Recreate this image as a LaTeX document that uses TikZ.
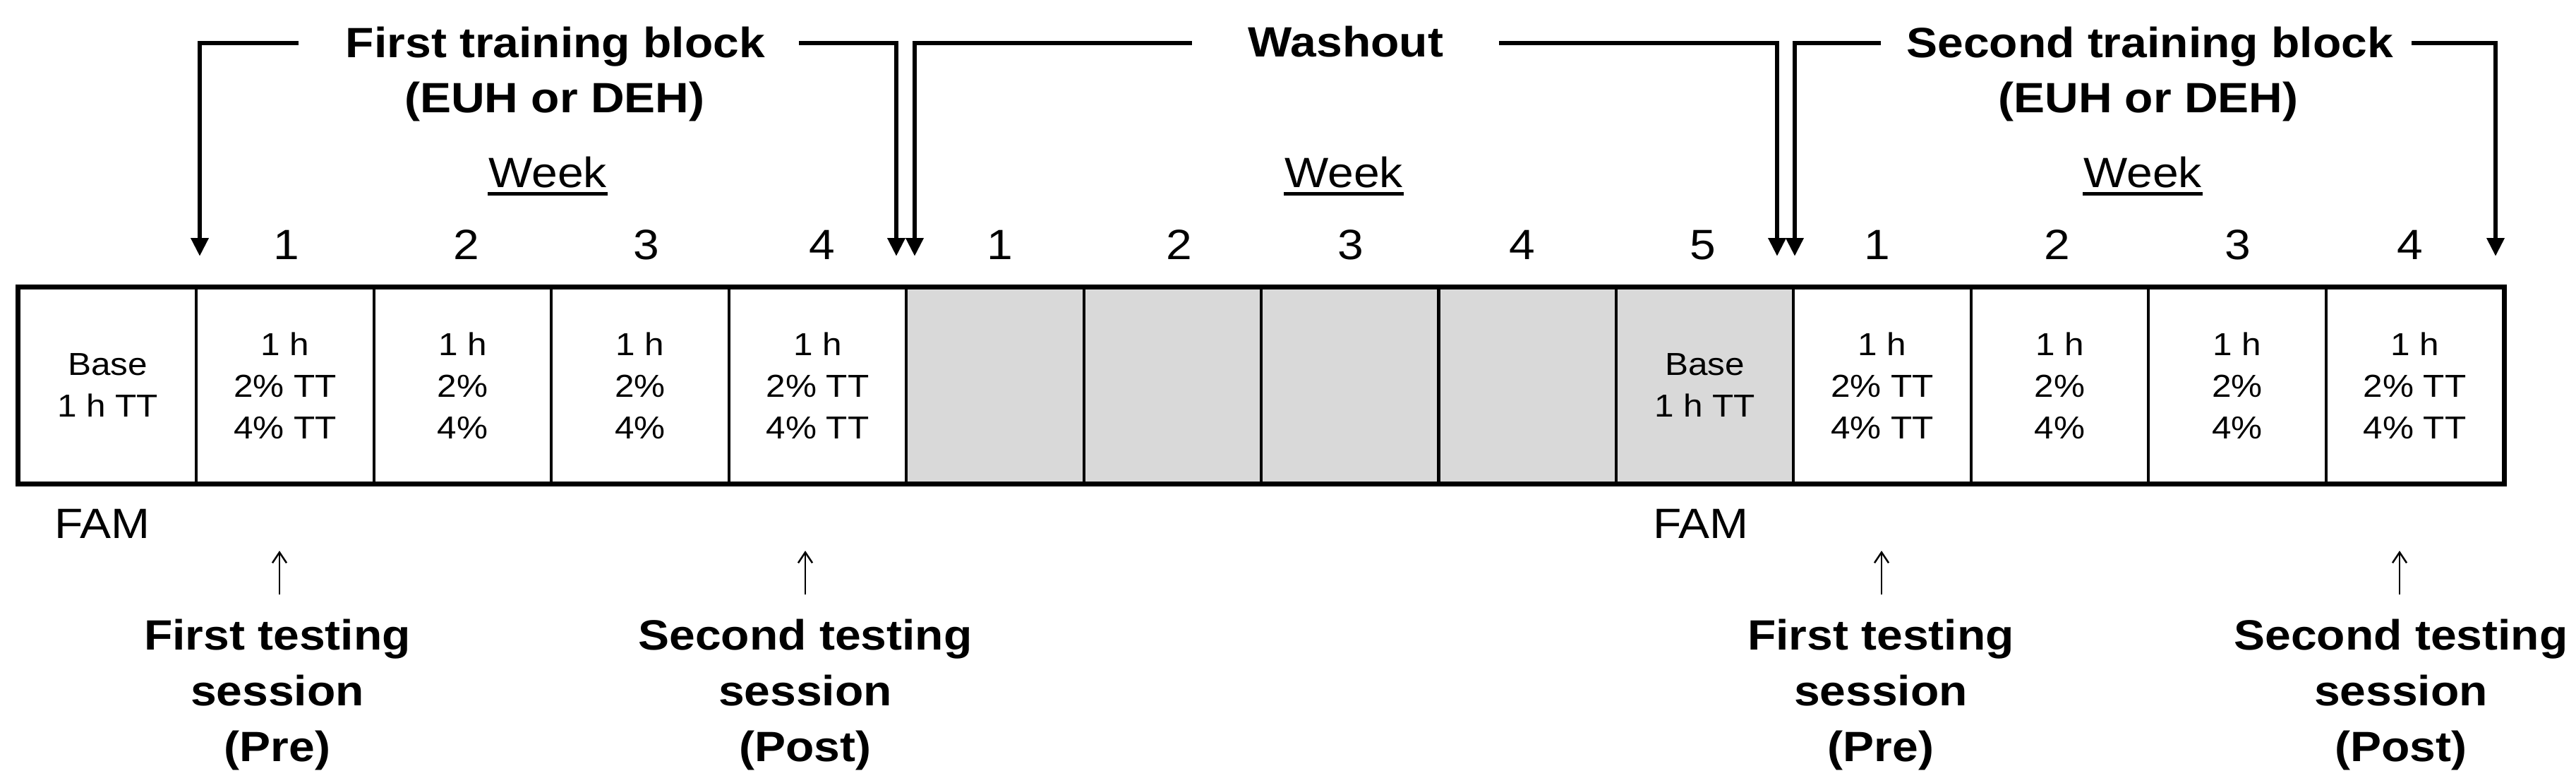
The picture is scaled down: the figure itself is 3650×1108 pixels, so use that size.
\documentclass[tikz,border=0pt]{standalone}
\usepackage{fontspec}
\setmainfont{Liberation Sans}[FakeStretch=1.1]
\usetikzlibrary{arrows.meta}
\definecolor{washgrey}{gray}{0.85}
\begin{document}
\begin{tikzpicture}[x=0.2pt,y=-0.2pt,
  cell/.style={draw, line width=0.8pt, minimum width=50.286pt, minimum height=55.2pt,
    inner sep=0pt, align=center, font=\fontsize{9}{11.8}\selectfont},
  washcell/.style={cell, fill=washgrey},
  head/.style={inner sep=0pt, anchor=base, font=\fontsize{12}{15.6}\selectfont\bfseries},
  plain/.style={inner sep=0pt, anchor=base, font=\fontsize{12}{15.6}\selectfont},
  bracket/.style={line width=1.3pt, -{Triangle[width=4.8pt,length=5.2pt]}},
  upmark/.style={line width=0.5pt, -{Straight Barb[width=4pt,length=3pt]}}]
\useasboundingbox (0,0) rectangle (3650,1108);

% cells
\node[cell] (c0) at (152.7,546) {Base\\1 h TT};
\node[cell] (c1) at (404.1,546) {1 h\\2\% TT\\4\% TT};
\node[cell] (c2) at (655.6,546) {1 h\\2\%\\4\%};
\node[cell] (c3) at (907.0,546) {1 h\\2\%\\4\%};
\node[cell] (c4) at (1158.4,546) {1 h\\2\% TT\\4\% TT};
\node[washcell] (c5) at (1409.9,546) {};
\node[washcell] (c6) at (1661.3,546) {};
\node[washcell] (c7) at (1912.7,546) {};
\node[washcell] (c8) at (2164.2,546) {};
\node[washcell] (c9) at (2415.6,546) {Base\\1 h TT};
\node[cell] (c10) at (2667.0,546) {1 h\\2\% TT\\4\% TT};
\node[cell] (c11) at (2918.5,546) {1 h\\2\%\\4\%};
\node[cell] (c12) at (3169.9,546) {1 h\\2\%\\4\%};
\node[cell] (c13) at (3421.4,546) {1 h\\2\% TT\\4\% TT};
\draw[line width=1.3pt] (c0.north west) rectangle (c13.south east);

% headings
\node[head] (t1a) at (787,81) {First training block};
\node[head] (t1b) at (786,159) {(EUH or DEH)};
\node[head] (t2) at (1907,80) {Washout};
\node[head] (t3a) at (3046,81) {Second training block};
\node[head] (t3b) at (3044,159) {(EUH or DEH)};

% week labels
\node[plain] (wk1) at (776,265) {Week};
\node[plain] (wk2) at (1904,265) {Week};
\node[plain] (wk3) at (3036,265) {Week};
\foreach \w in {wk1,wk2,wk3}
  \draw[line width=1pt] ([yshift=-1.9pt]\w.base west) -- ([yshift=-1.9pt]\w.base east);

% week numbers
\node[plain] (n1) at (406,367) {1};
\node[plain] (n2) at (661,367) {2};
\node[plain] (n3) at (916,367) {3};
\node[plain] (n4) at (1165,367) {4};
\node[plain] (m1) at (1417,367) {1};
\node[plain] (m2) at (1671,367) {2};
\node[plain] (m3) at (1914,367) {3};
\node[plain] (m4) at (2157,367) {4};
\node[plain] (m5) at (2413,367) {5};
\node[plain] (s1) at (2660,367) {1};
\node[plain] (s2) at (2915,367) {2};
\node[plain] (s3) at (3171,367) {3};
\node[plain] (s4) at (3415,367) {4};

% bracket arrows
\coordinate (a1s) at (423,61);   \coordinate (a1e) at (283,363);
\coordinate (a2s) at (1132,61);  \coordinate (a2e) at (1270,363);
\coordinate (w1s) at (1689,61);  \coordinate (w1e) at (1296,363);
\coordinate (w2s) at (2124,61);  \coordinate (w2e) at (2518,363);
\coordinate (b1s) at (2665,61);  \coordinate (b1e) at (2543,363);
\coordinate (b2s) at (3417,61);  \coordinate (b2e) at (3536,363);
\draw[bracket] (a1s) -| (a1e);
\draw[bracket] (a2s) -| (a2e);
\draw[bracket] (w1s) -| (w1e);
\draw[bracket] (w2s) -| (w2e);
\draw[bracket] (b1s) -| (b1e);
\draw[bracket] (b2s) -| (b2e);

% FAM
\node[plain] (fam1) at (145,762) {FAM};
\node[plain] (fam2) at (2410,762) {FAM};

% testing sessions
\node[head] (p1a) at (393,920) {First testing};
\node[head] (p1b) at (393,999) {session};
\node[head] (p1c) at (393,1078) {(Pre)};
\node[head] (q1a) at (1141,920) {Second testing};
\node[head] (q1b) at (1141,999) {session};
\node[head] (q1c) at (1141,1078) {(Post)};
\node[head] (p2a) at (2665,920) {First testing};
\node[head] (p2b) at (2665,999) {session};
\node[head] (p2c) at (2665,1078) {(Pre)};
\node[head] (q2a) at (3402,920) {Second testing};
\node[head] (q2b) at (3402,999) {session};
\node[head] (q2c) at (3402,1078) {(Post)};

\coordinate (u1s) at (396,842);  \coordinate (u1e) at (396,780);
\coordinate (u2s) at (1141,842); \coordinate (u2e) at (1141,780);
\coordinate (u3s) at (2666,842); \coordinate (u3e) at (2666,780);
\coordinate (u4s) at (3400,842); \coordinate (u4e) at (3400,780);
\draw[upmark] (u1s) -- (u1e);
\draw[upmark] (u2s) -- (u2e);
\draw[upmark] (u3s) -- (u3e);
\draw[upmark] (u4s) -- (u4e);
\end{tikzpicture}
\end{document}
